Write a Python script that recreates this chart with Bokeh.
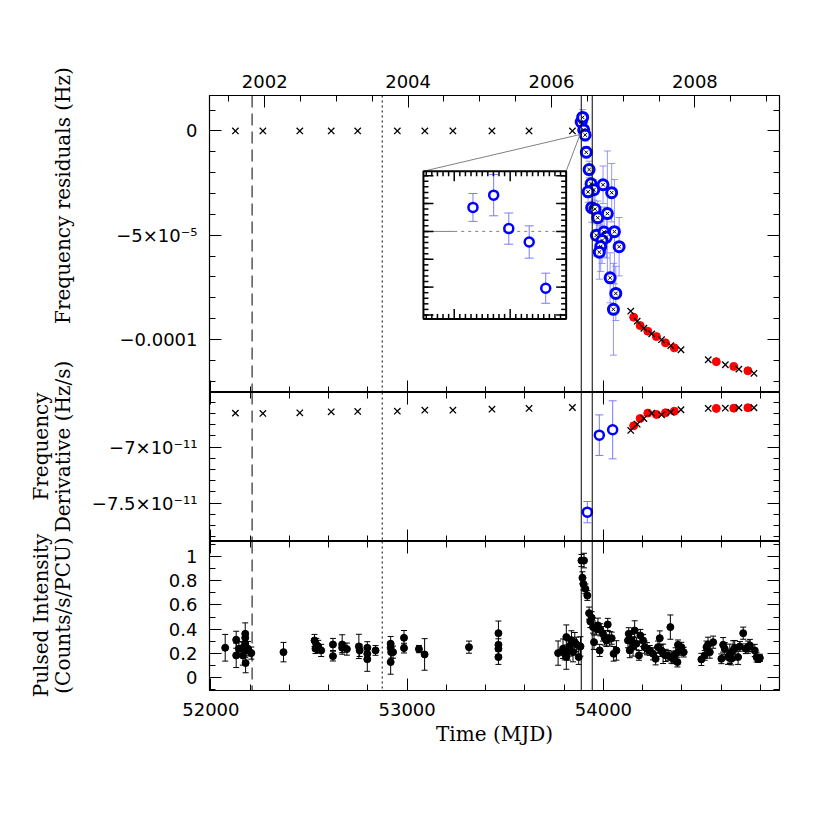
import numpy as np
from bokeh.plotting import figure
from bokeh.layouts import column, row
from bokeh.core.properties import value
from bokeh.models import (Range1d, LinearAxis, FixedTicker, CustomJSTickFormatter, Span,
                          ColumnDataSource, Whisker, TeeHead)
from bokeh.embed import file_html
from bokeh.resources import INLINE

# ------------------------------------------------------------------ data
X_RANGE = (51993, 54897)                      # MJD
EVENT_MJD = [52210, 52873, 53887, 53943]
EVENT_DASH = ["12 6", "2 3", "solid", "solid"]

# model crosses (both upper panels share the epochs)
CROSS_EARLY_MJD = [52125, 52265, 52453, 52613, 52748, 52950, 53090, 53233, 53432, 53621, 53842]
CROSS_LATE_MJD = [54139, 54172, 54206, 54246, 54296, 54343, 54395, 54534, 54621, 54690, 54767]
RED_MJD = [54154, 54187, 54226, 54270, 54316, 54361, 54575, 54664, 54736]

# --- panel 1: frequency residuals (Hz)
F_CROSS_EARLY = [0.0] * 11
F_CROSS_LATE = [-8.64e-5, -9.12e-5, -9.46e-5, -9.73e-5, -1.001e-4, -1.029e-4, -1.049e-4,
                -1.097e-4, -1.121e-4, -1.142e-4, -1.162e-4]
F_RED = [-8.93e-5, -9.33e-5, -9.60e-5, -9.86e-5, -1.016e-4, -1.040e-4, -1.106e-4, -1.129e-4, -1.150e-4]
F_BLUE_MJD = [53886.7, 53894.1, 53899.5, 53906.8, 53912.7, 53927, 53937, 53951, 53922, 53998,
              54042, 53940, 53957, 53971, 54020, 53964, 54003, 54015, 54056, 53993,
              53986, 53979, 54080, 54034, 54063, 54051]
F_BLUE = [4.3e-6, 6.5e-6, 0.5e-6, -1.9e-6, -1.02e-5, -1.85e-5, -2.53e-5, -2.82e-5, -2.92e-5, -2.58e-5,
          -2.96e-5, -3.68e-5, -3.75e-5, -4.16e-5, -3.96e-5, -5.0e-5, -4.85e-5, -5.09e-5, -4.83e-5, -5.25e-5,
          -5.54e-5, -5.81e-5, -5.55e-5, -7.04e-5, -7.79e-5, -8.55e-5]
F_BLUE_ERR = [2.5e-6, 3.7e-6, 2.8e-6, 2.9e-6, 2.7e-6, 4e-6, 6e-6, 5e-6, 5e-6, 9e-6,
              1.4e-5, 7e-6, 7e-6, 8e-6, 3e-5, 1e-5, 1.2e-5, 1.0e-5, 2.5e-5, 1.1e-5,
              1.2e-5, 1.3e-5, 1.4e-5, 1.2e-5, 1.3e-5, 2.2e-5]
F_RANGE = (-1.254e-4, 1.70e-5)
F_TICKS = [-1e-4, -5e-5, 0.0]
F_LABELS = ["\u22120.0001", "\u22125\u00d710\u207b\u2075", "0"]

# inset (zoom on the first post-event points)
INSET_X = (53869, 53920)
INSET_Y = (-1.57e-5, 1.08e-5)
INSET_TARGET_X = (53083, 53810)
INSET_TARGET_Y = (-9.01e-5, -1.93e-5)
INSET_SPLIT = 53880
ZOOM_ANCHOR = (53881, -1.7e-6)

# --- panel 2: frequency derivative (Hz/s)
D_CROSS_EARLY = [-6.696e-11, -6.699e-11, -6.693e-11, -6.684e-11, -6.681e-11, -6.679e-11,
                 -6.670e-11, -6.670e-11, -6.661e-11, -6.654e-11, -6.646e-11]
D_CROSS_LATE = [-6.851e-11, -6.795e-11, -6.744e-11, -6.696e-11, -6.711e-11, -6.688e-11,
                -6.666e-11, -6.654e-11, -6.652e-11, -6.648e-11, -6.648e-11]
D_RED = [-6.809e-11, -6.744e-11, -6.696e-11, -6.708e-11, -6.693e-11, -6.679e-11,
         -6.654e-11, -6.652e-11, -6.648e-11]
D_BLUE_MJD = [53918, 53979, 54047]
D_BLUE = [-7.580e-11, -6.893e-11, -6.845e-11]
D_BLUE_ERR = [0.095e-11, 0.181e-11, 0.259e-11]
D_RANGE = (-7.842e-11, -6.512e-11)
D_TICKS = [-7.5e-11, -7e-11]
D_LABELS = ["\u22127.5\u00d710\u207b\u00b9\u00b9", "\u22127\u00d710\u207b\u00b9\u00b9"]

# --- panel 3: pulsed intensity
PI_MJD = [52073, 52129, 52129, 52143, 52160, 52163, 52175, 52175, 52175, 52175, 52177, 52189, 52206,
          52370, 52528, 52537, 52533, 52547, 52562, 52622, 52622, 52669, 52669, 52693, 52754, 52758,
          52797, 52797, 52797, 52839,
          52916, 52916, 52919, 52916, 52928, 52984, 52984, 53060, 53089, 53315, 53465, 53465, 53465, 53465,
          53769, 53794, 53803, 53811, 53811, 53820, 53828, 53837, 53845, 53854, 53862, 53874, 53883,
          53888, 53901, 53893, 53898, 53908, 53918,
          53927, 53933, 53940, 53947, 53952, 53964, 53972, 53981, 53984, 53998, 54006, 54015, 54022,
          54032, 54042, 54052, 54066,
          54125, 54129, 54134, 54142, 54151, 54159, 54168, 54181, 54188, 54202, 54210, 54222, 54236,
          54253, 54266, 54278, 54287, 54295, 54304, 54317, 54329, 54341, 54346, 54355, 54368, 54377,
          54380, 54389, 54397, 54409,
          54499, 54516, 54525, 54533, 54542, 54559, 54601, 54610, 54618, 54635, 54644, 54652, 54661,
          54669, 54686, 54695, 54712, 54725, 54737, 54746, 54771, 54780, 54788, 54797]
PI_VAL = [0.247, 0.313, 0.184, 0.239, 0.244, 0.184, 0.362, 0.329, 0.280, 0.225, 0.121, 0.239, 0.203,
          0.211, 0.307, 0.274, 0.239, 0.258, 0.225, 0.274, 0.178, 0.274, 0.247, 0.236, 0.258, 0.225,
          0.247, 0.197, 0.153, 0.225,
          0.280, 0.247, 0.211, 0.129, 0.211, 0.329, 0.244, 0.236, 0.192, 0.252, 0.367, 0.271, 0.239, 0.170,
          0.203, 0.239, 0.197, 0.335, 0.170, 0.225, 0.258, 0.307, 0.211, 0.293, 0.274, 0.170, 0.258,
          0.965, 0.965, 0.823, 0.773, 0.732, 0.677,
          0.532, 0.463, 0.494, 0.417, 0.293, 0.403, 0.431, 0.225, 0.395, 0.362, 0.329, 0.307, 0.439,
          0.321, 0.326, 0.197, 0.225,
          0.307, 0.362, 0.225, 0.307, 0.258, 0.389, 0.280, 0.184, 0.348, 0.307, 0.252, 0.239, 0.225,
          0.197, 0.156, 0.252, 0.326, 0.225, 0.197, 0.184, 0.184, 0.417, 0.170, 0.156, 0.197, 0.129,
          0.271, 0.225, 0.252, 0.211,
          0.151, 0.184, 0.252, 0.274, 0.211, 0.293, 0.156, 0.271, 0.239, 0.170, 0.197, 0.156, 0.225,
          0.247, 0.170, 0.258, 0.367, 0.239, 0.252, 0.266, 0.225, 0.170, 0.156, 0.164]
PI_ERR = [0.11, 0.07, 0.10, 0.06, 0.05, 0.08, 0.09, 0.05, 0.05, 0.06, 0.08, 0.06, 0.05,
          0.08, 0.05, 0.05, 0.04, 0.05, 0.05, 0.05, 0.04, 0.08, 0.04, 0.05, 0.10, 0.05,
          0.05, 0.06, 0.10, 0.04,
          0.06, 0.05, 0.05, 0.10, 0.05, 0.06, 0.04, 0.03, 0.13, 0.05, 0.10, 0.05, 0.05, 0.06,
          0.10, 0.08, 0.05, 0.10, 0.10, 0.08, 0.08, 0.08, 0.08, 0.08, 0.06, 0.06, 0.08,
          0.05, 0.06, 0.05, 0.05, 0.04, 0.04,
          0.05, 0.05, 0.05, 0.05, 0.06, 0.05, 0.06, 0.05, 0.05, 0.06, 0.06, 0.05, 0.05,
          0.06, 0.05, 0.06, 0.08,
          0.06, 0.05, 0.06, 0.05, 0.08, 0.08, 0.05, 0.04, 0.05, 0.05, 0.05, 0.05, 0.04,
          0.05, 0.05, 0.05, 0.06, 0.05, 0.08, 0.05, 0.04, 0.10, 0.05, 0.04, 0.05, 0.04,
          0.04, 0.04, 0.04, 0.04,
          0.05, 0.04, 0.05, 0.06, 0.05, 0.05, 0.04, 0.06, 0.05, 0.06, 0.08, 0.05, 0.08,
          0.06, 0.06, 0.04, 0.05, 0.04, 0.05, 0.05, 0.05, 0.04, 0.03, 0.03]
P_RANGE = (-0.105, 1.122)
P_TICKS = [0.0, 0.2, 0.4, 0.6, 0.8, 1.0]
P_LABELS = ["0", "0.2", "0.4", "0.6", "0.8", "1"]

MJD_TICKS = [52000, 53000, 54000]
MJD_LABELS = ["52000", "53000", "54000"]
YEAR_TICKS = [2002, 2004, 2006, 2008]
YEAR_LABELS = ["2002", "2004", "2006", "2008"]

Y_TITLES = ["Frequency residuals (Hz)", "Frequency", "Derivative (Hz/s)",
            "Pulsed Intensity", "(Counts/s/PCU)"]
X_TITLE = "Time (MJD)"

# ------------------------------------------------------------------ layout / style
TICK_FONT = "DejaVu Sans"
TITLE_FONT = "DejaVu Serif"
BLUE = "#0000ff"
ERR_BLUE = "#7b7bff"
TITLE_W = 80             # strip that holds the rotated y titles
TOTAL_H = 750
FRAME_W = 570
LEFT = 129
TOP = 95
# title anchor points inside the title strip (pixels from its top-left)
TITLE_POS_X = [62, 40, 62, 40, 62]
TITLE_POS_Y = [195, 446, 446, 615, 615]


def mjd_to_year(m):
    return 2000.0 + (m - 51544.0) / 365.25


def fmt(ticks, labels):
    return CustomJSTickFormatter(args=dict(t=list(ticks), l=list(labels)), code="""
        for (let i = 0; i < t.length; i++) {
            if (Math.abs(tick - t[i]) <= 1e-6 * Math.max(Math.abs(t[i]), 1e-30)) { return l[i]; }
        }
        return '';
    """)


def style_axis(ax, ticker, labels=None, standoff=10):
    ax.ticker = ticker
    ax.major_tick_in = 12
    ax.major_tick_out = 0
    ax.minor_tick_in = 6
    ax.minor_tick_out = 0
    ax.axis_line_color = "black"
    ax.major_tick_line_color = "black"
    ax.minor_tick_line_color = "black"
    if labels is None:
        ax.formatter = CustomJSTickFormatter(code="return '';")
        ax.major_label_standoff = 0
        ax.major_label_text_font_size = "0px"
    else:
        ax.formatter = fmt(ticker.ticks, labels)
        ax.major_label_standoff = standoff
        ax.major_label_text_font = TICK_FONT
        ax.major_label_text_font_size = "18px"
        ax.major_label_text_color = "black"


def make_fig(frame_h, y_range, border_top, border_bottom, x_range):
    p = figure(frame_width=FRAME_W, frame_height=frame_h, x_range=x_range,
               y_range=Range1d(*y_range), output_backend="svg", toolbar_location=None,
               min_border_left=LEFT, min_border_right=20, min_border_top=border_top,
               min_border_bottom=border_bottom)
    p.grid.visible = False
    p.outline_line_color = "black"
    p.outline_line_width = 1.2
    p.background_fill_color = "white"
    p.border_fill_color = "white"
    for loc, dash in zip(EVENT_MJD, EVENT_DASH):
        p.add_layout(Span(location=loc, dimension="height", line_color="black",
                          line_width=1, line_dash=dash))
    return p


def add_y_axes(p, ticks, minor, labels):
    style_axis(p.yaxis[0], FixedTicker(ticks=ticks, minor_ticks=minor), labels, standoff=12)
    right = LinearAxis()
    style_axis(right, FixedTicker(ticks=ticks, minor_ticks=minor))
    p.add_layout(right, "right")


def mjd_ticker():
    return FixedTicker(ticks=MJD_TICKS, minor_ticks=list(np.arange(51800, 55000, 200)))


xr = Range1d(*X_RANGE)

# ------------------------------------------------------------------ panel 1
p1 = make_fig(297, F_RANGE, TOP, 0, xr)
add_y_axes(p1, F_TICKS, list(np.arange(-1.3e-4, 2.0e-5, 1e-5)), F_LABELS)
style_axis(p1.xaxis[0], mjd_ticker())
p1.extra_x_ranges = {"yr": Range1d(mjd_to_year(X_RANGE[0]), mjd_to_year(X_RANGE[1]))}
top_ax = LinearAxis(x_range_name="yr")
style_axis(top_ax, FixedTicker(ticks=YEAR_TICKS, minor_ticks=list(np.arange(2001.0, 2009.6, 0.5))),
           YEAR_LABELS, standoff=8)
p1.add_layout(top_ax, "above")

p1.scatter(CROSS_EARLY_MJD, F_CROSS_EARLY, marker="x", size=9, line_color="black", line_width=1.3)
fb = np.array(F_BLUE)
fe = np.array(F_BLUE_ERR)
src1 = ColumnDataSource(dict(x=F_BLUE_MJD, y=F_BLUE, lo=list(fb - fe), hi=list(fb + fe)))
p1.add_layout(Whisker(source=src1, base="x", lower="lo", upper="hi", line_color=ERR_BLUE,
                      line_alpha=0.8, line_width=1,
                      lower_head=TeeHead(size=7, line_color=ERR_BLUE, line_alpha=0.8),
                      upper_head=TeeHead(size=7, line_color=ERR_BLUE, line_alpha=0.8)))
p1.scatter("x", "y", source=src1, marker="circle", size=10, fill_color="white",
           line_color=BLUE, line_width=3)
p1.scatter("x", "y", source=src1, marker="x", size=5, line_color="black", line_width=1)
p1.scatter(RED_MJD, F_RED, marker="circle", size=8, fill_color="red", line_color="red")
p1.scatter(CROSS_LATE_MJD, F_CROSS_LATE, marker="x", size=9, line_color="black", line_width=1.3)

# inset
p1.segment(x0=[INSET_TARGET_X[0], INSET_TARGET_X[1]], y0=[INSET_TARGET_Y[1]] * 2,
           x1=[ZOOM_ANCHOR[0]] * 2, y1=[ZOOM_ANCHOR[1]] * 2, line_color="#808080", line_width=1)
ins = p1.subplot(x_source=Range1d(*INSET_X), y_source=Range1d(*INSET_Y),
                 x_target=Range1d(*INSET_TARGET_X), y_target=Range1d(*INSET_TARGET_Y))
ins.quad(left=[INSET_X[0]], right=[INSET_X[1]], bottom=[INSET_Y[0]], top=[INSET_Y[1]],
         fill_color="white", line_color="black", line_width=2)
ins.segment(x0=[INSET_X[0]], y0=[0], x1=[INSET_SPLIT], y1=[0], line_color="#808080", line_width=1)
ins.segment(x0=[INSET_SPLIT], y0=[0], x1=[INSET_X[1]], y1=[0], line_color="#808080",
            line_width=1, line_dash="3 4")
sel = [i for i, m in enumerate(F_BLUE_MJD) if INSET_X[0] < m < INSET_X[1]]
ix = [F_BLUE_MJD[i] for i in sel]
iy = [F_BLUE[i] for i in sel]
ie = [F_BLUE_ERR[i] for i in sel]
ilo = [a - b for a, b in zip(iy, ie)]
ihi = [a + b for a, b in zip(iy, ie)]
ins.segment(x0=ix, y0=ilo, x1=ix, y1=ihi, line_color=ERR_BLUE, line_width=1)
ins.scatter(ix + ix, ilo + ihi, marker="dash", size=9, line_color=ERR_BLUE, line_width=1)
ins.scatter(ix, iy, marker="circle", size=9, fill_color="white", line_color=BLUE, line_width=2.5)
# inset ticks
ix_major = list(np.arange(53880, INSET_X[1], 20))
ix_minor = [v for v in np.arange(53870, INSET_X[1], 2) if v not in ix_major]
iy_major = list(np.arange(-1.5e-5, INSET_Y[1], 5e-6))
iy_minor = list(np.arange(-1.5e-5, INSET_Y[1], 1e-6))
for vals, ln in ((ix_major, 10), (ix_minor, 5)):
    ins.ray(x=vals, y=[INSET_Y[0]] * len(vals), length=ln, length_units="screen",
            angle=np.pi / 2, line_color="black", line_width=1.5)
    ins.ray(x=vals, y=[INSET_Y[1]] * len(vals), length=ln, length_units="screen",
            angle=-np.pi / 2, line_color="black", line_width=1.5)
for vals, ln in ((iy_major, 10), (iy_minor, 5)):
    ins.ray(x=[INSET_X[0]] * len(vals), y=vals, length=ln, length_units="screen",
            angle=0, line_color="black", line_width=1.5)
    ins.ray(x=[INSET_X[1]] * len(vals), y=vals, length=ln, length_units="screen",
            angle=np.pi, line_color="black", line_width=1.5)

# ------------------------------------------------------------------ panel 2
p2 = make_fig(149, D_RANGE, 0, 0, xr)
add_y_axes(p2, D_TICKS, list(np.arange(-7.9e-11, -6.5e-11, 1e-12)), D_LABELS)
style_axis(p2.xaxis[0], mjd_ticker())
a2 = LinearAxis()
style_axis(a2, mjd_ticker())
p2.add_layout(a2, "above")
p2.scatter(CROSS_EARLY_MJD, D_CROSS_EARLY, marker="x", size=9, line_color="black", line_width=1.3)
db = np.array(D_BLUE)
de = np.array(D_BLUE_ERR)
src2 = ColumnDataSource(dict(x=D_BLUE_MJD, y=D_BLUE, lo=list(db - de), hi=list(db + de)))
p2.add_layout(Whisker(source=src2, base="x", lower="lo", upper="hi", line_color=ERR_BLUE,
                      line_width=1,
                      lower_head=TeeHead(size=8, line_color=ERR_BLUE),
                      upper_head=TeeHead(size=8, line_color=ERR_BLUE)))
p2.scatter("x", "y", source=src2, marker="circle", size=9, fill_color="white",
           line_color=BLUE, line_width=2.5)
p2.scatter(RED_MJD, D_RED, marker="circle", size=8, fill_color="red", line_color="red")
p2.scatter(CROSS_LATE_MJD, D_CROSS_LATE, marker="x", size=9, line_color="black", line_width=1.3)

# ------------------------------------------------------------------ panel 3
p3 = make_fig(149, P_RANGE, 0, 60, xr)
add_y_axes(p3, P_TICKS, list(np.arange(-0.1, 1.15, 0.1)), P_LABELS)
style_axis(p3.xaxis[0], mjd_ticker(), MJD_LABELS, standoff=12)
ax3 = p3.xaxis[0]
ax3.axis_label = X_TITLE
ax3.axis_label_text_font = TITLE_FONT
ax3.axis_label_text_font_size = "20px"
ax3.axis_label_text_font_style = "normal"
ax3.axis_label_text_color = "black"
ax3.axis_label_standoff = 3
a3 = LinearAxis()
style_axis(a3, mjd_ticker())
p3.add_layout(a3, "above")
pv = np.array(PI_VAL)
pe = np.array(PI_ERR)
src3 = ColumnDataSource(dict(x=PI_MJD, y=PI_VAL, lo=list(pv - pe), hi=list(pv + pe)))
p3.add_layout(Whisker(source=src3, base="x", lower="lo", upper="hi", line_color="black",
                      line_width=1,
                      lower_head=TeeHead(size=6, line_color="black"),
                      upper_head=TeeHead(size=6, line_color="black")))
p3.scatter("x", "y", source=src3, marker="circle", size=7, fill_color="black", line_color="black")

# ------------------------------------------------------------------ y-title strip
tp = figure(frame_width=TITLE_W, frame_height=TOTAL_H, x_range=Range1d(0, TITLE_W),
            y_range=Range1d(TOTAL_H, 0), output_backend="svg", toolbar_location=None,
            x_axis_type=None, y_axis_type=None, min_border=0)
tp.grid.visible = False
tp.outline_line_color = None
tp.background_fill_color = "white"
tp.border_fill_color = "white"
tp.text(x=TITLE_POS_X, y=TITLE_POS_Y, text=Y_TITLES, angle=np.pi / 2,
        text_align="center", text_baseline="middle", text_font=value(TITLE_FONT),
        text_font_size=value("20px"), text_color="black")

layout = row(tp, column(p1, p2, p3, spacing=0), spacing=0)
open("out.html", "w").write(file_html(layout, INLINE))
